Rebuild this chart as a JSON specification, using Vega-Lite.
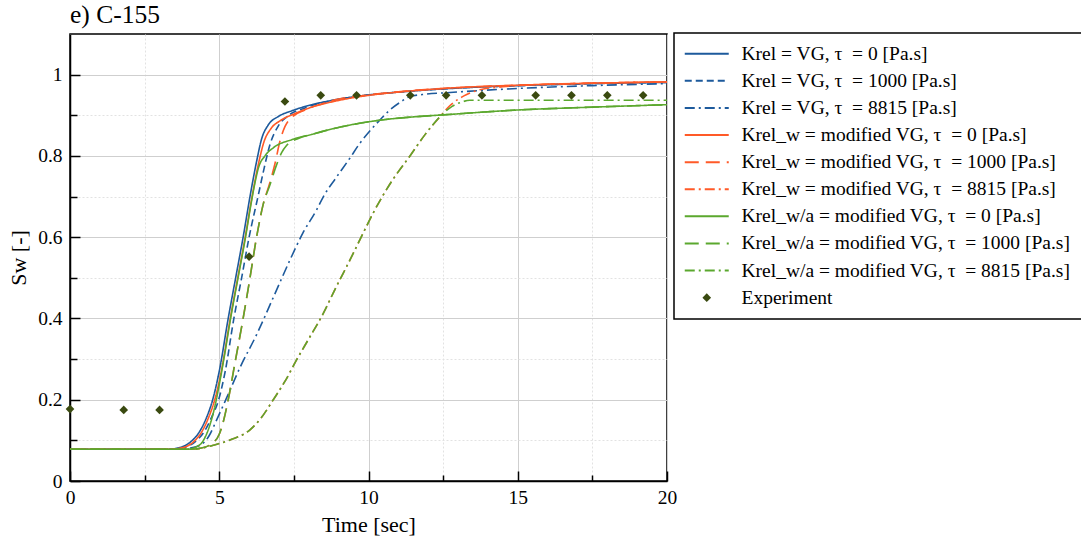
{
 "$schema": "https://vega.github.io/schema/vega-lite/v6.json",
 "width": 597, "height": 447,
 "autosize": {"type": "none"},
 "padding": {"left": 70, "top": 34, "right": 414, "bottom": 63},
 "background": "white",
 "title": {"text": "e) C-155", "anchor": "start", "frame": "group", "font": "Liberation Serif", "fontSize": 25.5, "fontWeight": "normal", "color": "black", "baseline": "bottom", "offset": 0, "dy": 21.5},
 "config": {"view": {"stroke": "black", "strokeWidth": 1.5}, "font": "Liberation Serif"},
 "datasets": {
  "curves": [
   {"s":"Krel = VG, τ\u00a0 = 0 [Pa.s]","t":0,"sw":0.078},{"s":"Krel = VG, τ\u00a0 = 0 [Pa.s]","t":3.2,"sw":0.078},{"s":"Krel = VG, τ\u00a0 = 0 [Pa.s]","t":3.6,"sw":0.081},{"s":"Krel = VG, τ\u00a0 = 0 [Pa.s]","t":4.0,"sw":0.094},{"s":"Krel = VG, τ\u00a0 = 0 [Pa.s]","t":4.3,"sw":0.117},{"s":"Krel = VG, τ\u00a0 = 0 [Pa.s]","t":4.55,"sw":0.152},{"s":"Krel = VG, τ\u00a0 = 0 [Pa.s]","t":4.78,"sw":0.2},{"s":"Krel = VG, τ\u00a0 = 0 [Pa.s]","t":5.0,"sw":0.27},{"s":"Krel = VG, τ\u00a0 = 0 [Pa.s]","t":5.3,"sw":0.4},{"s":"Krel = VG, τ\u00a0 = 0 [Pa.s]","t":5.55,"sw":0.5},{"s":"Krel = VG, τ\u00a0 = 0 [Pa.s]","t":5.8,"sw":0.6},{"s":"Krel = VG, τ\u00a0 = 0 [Pa.s]","t":6.03,"sw":0.7},{"s":"Krel = VG, τ\u00a0 = 0 [Pa.s]","t":6.25,"sw":0.786},{"s":"Krel = VG, τ\u00a0 = 0 [Pa.s]","t":6.42,"sw":0.842},{"s":"Krel = VG, τ\u00a0 = 0 [Pa.s]","t":6.64,"sw":0.876},{"s":"Krel = VG, τ\u00a0 = 0 [Pa.s]","t":6.98,"sw":0.897},{"s":"Krel = VG, τ\u00a0 = 0 [Pa.s]","t":7.43,"sw":0.911},{"s":"Krel = VG, τ\u00a0 = 0 [Pa.s]","t":8.1,"sw":0.926},{"s":"Krel = VG, τ\u00a0 = 0 [Pa.s]","t":8.88,"sw":0.938},{"s":"Krel = VG, τ\u00a0 = 0 [Pa.s]","t":10,"sw":0.95},{"s":"Krel = VG, τ\u00a0 = 0 [Pa.s]","t":11,"sw":0.957},{"s":"Krel = VG, τ\u00a0 = 0 [Pa.s]","t":12.5,"sw":0.965},{"s":"Krel = VG, τ\u00a0 = 0 [Pa.s]","t":15,"sw":0.973},{"s":"Krel = VG, τ\u00a0 = 0 [Pa.s]","t":17.5,"sw":0.978},{"s":"Krel = VG, τ\u00a0 = 0 [Pa.s]","t":20,"sw":0.981},

   {"s":"Krel = VG, τ\u00a0 = 1000 [Pa.s]","t":0,"sw":0.078},{"s":"Krel = VG, τ\u00a0 = 1000 [Pa.s]","t":3.4,"sw":0.078},{"s":"Krel = VG, τ\u00a0 = 1000 [Pa.s]","t":3.8,"sw":0.082},{"s":"Krel = VG, τ\u00a0 = 1000 [Pa.s]","t":4.2,"sw":0.097},{"s":"Krel = VG, τ\u00a0 = 1000 [Pa.s]","t":4.5,"sw":0.122},{"s":"Krel = VG, τ\u00a0 = 1000 [Pa.s]","t":4.75,"sw":0.158},{"s":"Krel = VG, τ\u00a0 = 1000 [Pa.s]","t":4.98,"sw":0.2},{"s":"Krel = VG, τ\u00a0 = 1000 [Pa.s]","t":5.2,"sw":0.27},{"s":"Krel = VG, τ\u00a0 = 1000 [Pa.s]","t":5.49,"sw":0.4},{"s":"Krel = VG, τ\u00a0 = 1000 [Pa.s]","t":5.75,"sw":0.5},{"s":"Krel = VG, τ\u00a0 = 1000 [Pa.s]","t":6.0,"sw":0.6},{"s":"Krel = VG, τ\u00a0 = 1000 [Pa.s]","t":6.31,"sw":0.704},{"s":"Krel = VG, τ\u00a0 = 1000 [Pa.s]","t":6.48,"sw":0.762},{"s":"Krel = VG, τ\u00a0 = 1000 [Pa.s]","t":6.7,"sw":0.828},{"s":"Krel = VG, τ\u00a0 = 1000 [Pa.s]","t":6.98,"sw":0.874},{"s":"Krel = VG, τ\u00a0 = 1000 [Pa.s]","t":7.31,"sw":0.899},{"s":"Krel = VG, τ\u00a0 = 1000 [Pa.s]","t":7.87,"sw":0.918},{"s":"Krel = VG, τ\u00a0 = 1000 [Pa.s]","t":8.7,"sw":0.935},{"s":"Krel = VG, τ\u00a0 = 1000 [Pa.s]","t":10,"sw":0.95},{"s":"Krel = VG, τ\u00a0 = 1000 [Pa.s]","t":11,"sw":0.957},{"s":"Krel = VG, τ\u00a0 = 1000 [Pa.s]","t":12.5,"sw":0.965},{"s":"Krel = VG, τ\u00a0 = 1000 [Pa.s]","t":15,"sw":0.973},{"s":"Krel = VG, τ\u00a0 = 1000 [Pa.s]","t":17.5,"sw":0.978},{"s":"Krel = VG, τ\u00a0 = 1000 [Pa.s]","t":20,"sw":0.981},

   {"s":"Krel = VG, τ\u00a0 = 8815 [Pa.s]","t":0,"sw":0.078},{"s":"Krel = VG, τ\u00a0 = 8815 [Pa.s]","t":3.6,"sw":0.078},{"s":"Krel = VG, τ\u00a0 = 8815 [Pa.s]","t":4.0,"sw":0.081},{"s":"Krel = VG, τ\u00a0 = 8815 [Pa.s]","t":4.36,"sw":0.088},{"s":"Krel = VG, τ\u00a0 = 8815 [Pa.s]","t":4.65,"sw":0.11},{"s":"Krel = VG, τ\u00a0 = 8815 [Pa.s]","t":4.91,"sw":0.15},{"s":"Krel = VG, τ\u00a0 = 8815 [Pa.s]","t":5.25,"sw":0.205},{"s":"Krel = VG, τ\u00a0 = 8815 [Pa.s]","t":5.7,"sw":0.28},{"s":"Krel = VG, τ\u00a0 = 8815 [Pa.s]","t":6.25,"sw":0.36},{"s":"Krel = VG, τ\u00a0 = 8815 [Pa.s]","t":6.8,"sw":0.45},{"s":"Krel = VG, τ\u00a0 = 8815 [Pa.s]","t":7.37,"sw":0.544},{"s":"Krel = VG, τ\u00a0 = 8815 [Pa.s]","t":7.8,"sw":0.61},{"s":"Krel = VG, τ\u00a0 = 8815 [Pa.s]","t":8.26,"sw":0.667},{"s":"Krel = VG, τ\u00a0 = 8815 [Pa.s]","t":8.49,"sw":0.7},{"s":"Krel = VG, τ\u00a0 = 8815 [Pa.s]","t":8.9,"sw":0.745},{"s":"Krel = VG, τ\u00a0 = 8815 [Pa.s]","t":9.38,"sw":0.795},{"s":"Krel = VG, τ\u00a0 = 8815 [Pa.s]","t":9.7,"sw":0.83},{"s":"Krel = VG, τ\u00a0 = 8815 [Pa.s]","t":10.05,"sw":0.862},{"s":"Krel = VG, τ\u00a0 = 8815 [Pa.s]","t":10.39,"sw":0.889},{"s":"Krel = VG, τ\u00a0 = 8815 [Pa.s]","t":10.7,"sw":0.912},{"s":"Krel = VG, τ\u00a0 = 8815 [Pa.s]","t":11.06,"sw":0.932},{"s":"Krel = VG, τ\u00a0 = 8815 [Pa.s]","t":11.39,"sw":0.946},{"s":"Krel = VG, τ\u00a0 = 8815 [Pa.s]","t":11.8,"sw":0.951},{"s":"Krel = VG, τ\u00a0 = 8815 [Pa.s]","t":12.73,"sw":0.956},{"s":"Krel = VG, τ\u00a0 = 8815 [Pa.s]","t":15,"sw":0.966},{"s":"Krel = VG, τ\u00a0 = 8815 [Pa.s]","t":17.5,"sw":0.973},{"s":"Krel = VG, τ\u00a0 = 8815 [Pa.s]","t":20,"sw":0.978},

   {"s":"Krel_w = modified VG, τ\u00a0 = 0 [Pa.s]","t":0,"sw":0.078},{"s":"Krel_w = modified VG, τ\u00a0 = 0 [Pa.s]","t":3.3,"sw":0.078},{"s":"Krel_w = modified VG, τ\u00a0 = 0 [Pa.s]","t":3.7,"sw":0.081},{"s":"Krel_w = modified VG, τ\u00a0 = 0 [Pa.s]","t":4.1,"sw":0.094},{"s":"Krel_w = modified VG, τ\u00a0 = 0 [Pa.s]","t":4.38,"sw":0.117},{"s":"Krel_w = modified VG, τ\u00a0 = 0 [Pa.s]","t":4.62,"sw":0.152},{"s":"Krel_w = modified VG, τ\u00a0 = 0 [Pa.s]","t":4.85,"sw":0.2},{"s":"Krel_w = modified VG, τ\u00a0 = 0 [Pa.s]","t":5.07,"sw":0.27},{"s":"Krel_w = modified VG, τ\u00a0 = 0 [Pa.s]","t":5.37,"sw":0.4},{"s":"Krel_w = modified VG, τ\u00a0 = 0 [Pa.s]","t":5.62,"sw":0.5},{"s":"Krel_w = modified VG, τ\u00a0 = 0 [Pa.s]","t":5.87,"sw":0.6},{"s":"Krel_w = modified VG, τ\u00a0 = 0 [Pa.s]","t":6.1,"sw":0.7},{"s":"Krel_w = modified VG, τ\u00a0 = 0 [Pa.s]","t":6.33,"sw":0.786},{"s":"Krel_w = modified VG, τ\u00a0 = 0 [Pa.s]","t":6.5,"sw":0.835},{"s":"Krel_w = modified VG, τ\u00a0 = 0 [Pa.s]","t":6.72,"sw":0.866},{"s":"Krel_w = modified VG, τ\u00a0 = 0 [Pa.s]","t":7.05,"sw":0.887},{"s":"Krel_w = modified VG, τ\u00a0 = 0 [Pa.s]","t":7.5,"sw":0.903},{"s":"Krel_w = modified VG, τ\u00a0 = 0 [Pa.s]","t":8.1,"sw":0.92},{"s":"Krel_w = modified VG, τ\u00a0 = 0 [Pa.s]","t":8.9,"sw":0.935},{"s":"Krel_w = modified VG, τ\u00a0 = 0 [Pa.s]","t":10,"sw":0.949},{"s":"Krel_w = modified VG, τ\u00a0 = 0 [Pa.s]","t":11,"sw":0.957},{"s":"Krel_w = modified VG, τ\u00a0 = 0 [Pa.s]","t":12.5,"sw":0.966},{"s":"Krel_w = modified VG, τ\u00a0 = 0 [Pa.s]","t":15,"sw":0.974},{"s":"Krel_w = modified VG, τ\u00a0 = 0 [Pa.s]","t":17.5,"sw":0.979},{"s":"Krel_w = modified VG, τ\u00a0 = 0 [Pa.s]","t":20,"sw":0.982},

   {"s":"Krel_w = modified VG, τ\u00a0 = 1000 [Pa.s]","t":0,"sw":0.078},{"s":"Krel_w = modified VG, τ\u00a0 = 1000 [Pa.s]","t":4.0,"sw":0.078},{"s":"Krel_w = modified VG, τ\u00a0 = 1000 [Pa.s]","t":4.4,"sw":0.081},{"s":"Krel_w = modified VG, τ\u00a0 = 1000 [Pa.s]","t":4.75,"sw":0.092},{"s":"Krel_w = modified VG, τ\u00a0 = 1000 [Pa.s]","t":5.0,"sw":0.115},{"s":"Krel_w = modified VG, τ\u00a0 = 1000 [Pa.s]","t":5.15,"sw":0.15},{"s":"Krel_w = modified VG, τ\u00a0 = 1000 [Pa.s]","t":5.3,"sw":0.2},{"s":"Krel_w = modified VG, τ\u00a0 = 1000 [Pa.s]","t":5.55,"sw":0.3},{"s":"Krel_w = modified VG, τ\u00a0 = 1000 [Pa.s]","t":5.8,"sw":0.4},{"s":"Krel_w = modified VG, τ\u00a0 = 1000 [Pa.s]","t":6.03,"sw":0.5},{"s":"Krel_w = modified VG, τ\u00a0 = 1000 [Pa.s]","t":6.25,"sw":0.6},{"s":"Krel_w = modified VG, τ\u00a0 = 1000 [Pa.s]","t":6.47,"sw":0.68},{"s":"Krel_w = modified VG, τ\u00a0 = 1000 [Pa.s]","t":6.7,"sw":0.735},{"s":"Krel_w = modified VG, τ\u00a0 = 1000 [Pa.s]","t":6.87,"sw":0.782},{"s":"Krel_w = modified VG, τ\u00a0 = 1000 [Pa.s]","t":7.04,"sw":0.838},{"s":"Krel_w = modified VG, τ\u00a0 = 1000 [Pa.s]","t":7.2,"sw":0.872},{"s":"Krel_w = modified VG, τ\u00a0 = 1000 [Pa.s]","t":7.43,"sw":0.895},{"s":"Krel_w = modified VG, τ\u00a0 = 1000 [Pa.s]","t":7.87,"sw":0.913},{"s":"Krel_w = modified VG, τ\u00a0 = 1000 [Pa.s]","t":8.43,"sw":0.928},{"s":"Krel_w = modified VG, τ\u00a0 = 1000 [Pa.s]","t":8.88,"sw":0.938},{"s":"Krel_w = modified VG, τ\u00a0 = 1000 [Pa.s]","t":10,"sw":0.95},{"s":"Krel_w = modified VG, τ\u00a0 = 1000 [Pa.s]","t":11,"sw":0.958},{"s":"Krel_w = modified VG, τ\u00a0 = 1000 [Pa.s]","t":12.5,"sw":0.966},{"s":"Krel_w = modified VG, τ\u00a0 = 1000 [Pa.s]","t":15,"sw":0.974},{"s":"Krel_w = modified VG, τ\u00a0 = 1000 [Pa.s]","t":17.5,"sw":0.979},{"s":"Krel_w = modified VG, τ\u00a0 = 1000 [Pa.s]","t":20,"sw":0.982},

   {"s":"Krel_w = modified VG, τ\u00a0 = 8815 [Pa.s]","t":0,"sw":0.078},{"s":"Krel_w = modified VG, τ\u00a0 = 8815 [Pa.s]","t":4.0,"sw":0.078},{"s":"Krel_w = modified VG, τ\u00a0 = 8815 [Pa.s]","t":4.36,"sw":0.08},{"s":"Krel_w = modified VG, τ\u00a0 = 8815 [Pa.s]","t":4.8,"sw":0.088},{"s":"Krel_w = modified VG, τ\u00a0 = 8815 [Pa.s]","t":5.36,"sw":0.101},{"s":"Krel_w = modified VG, τ\u00a0 = 8815 [Pa.s]","t":6.03,"sw":0.126},{"s":"Krel_w = modified VG, τ\u00a0 = 8815 [Pa.s]","t":6.4,"sw":0.155},{"s":"Krel_w = modified VG, τ\u00a0 = 8815 [Pa.s]","t":6.81,"sw":0.2},{"s":"Krel_w = modified VG, τ\u00a0 = 8815 [Pa.s]","t":7.2,"sw":0.245},{"s":"Krel_w = modified VG, τ\u00a0 = 8815 [Pa.s]","t":7.59,"sw":0.298},{"s":"Krel_w = modified VG, τ\u00a0 = 8815 [Pa.s]","t":8.0,"sw":0.35},{"s":"Krel_w = modified VG, τ\u00a0 = 8815 [Pa.s]","t":8.49,"sw":0.413},{"s":"Krel_w = modified VG, τ\u00a0 = 8815 [Pa.s]","t":8.9,"sw":0.475},{"s":"Krel_w = modified VG, τ\u00a0 = 8815 [Pa.s]","t":9.38,"sw":0.544},{"s":"Krel_w = modified VG, τ\u00a0 = 8815 [Pa.s]","t":9.8,"sw":0.607},{"s":"Krel_w = modified VG, τ\u00a0 = 8815 [Pa.s]","t":10.16,"sw":0.66},{"s":"Krel_w = modified VG, τ\u00a0 = 8815 [Pa.s]","t":10.8,"sw":0.74},{"s":"Krel_w = modified VG, τ\u00a0 = 8815 [Pa.s]","t":11.39,"sw":0.8},{"s":"Krel_w = modified VG, τ\u00a0 = 8815 [Pa.s]","t":11.9,"sw":0.853},{"s":"Krel_w = modified VG, τ\u00a0 = 8815 [Pa.s]","t":12.4,"sw":0.897},{"s":"Krel_w = modified VG, τ\u00a0 = 8815 [Pa.s]","t":12.73,"sw":0.924},{"s":"Krel_w = modified VG, τ\u00a0 = 8815 [Pa.s]","t":13.18,"sw":0.947},{"s":"Krel_w = modified VG, τ\u00a0 = 8815 [Pa.s]","t":13.74,"sw":0.963},{"s":"Krel_w = modified VG, τ\u00a0 = 8815 [Pa.s]","t":14.5,"sw":0.97},{"s":"Krel_w = modified VG, τ\u00a0 = 8815 [Pa.s]","t":15,"sw":0.973},{"s":"Krel_w = modified VG, τ\u00a0 = 8815 [Pa.s]","t":17.5,"sw":0.979},{"s":"Krel_w = modified VG, τ\u00a0 = 8815 [Pa.s]","t":20,"sw":0.982},

   {"s":"Krel_w/a = modified VG, τ\u00a0 = 0 [Pa.s]","t":0,"sw":0.078},{"s":"Krel_w/a = modified VG, τ\u00a0 = 0 [Pa.s]","t":3.9,"sw":0.078},{"s":"Krel_w/a = modified VG, τ\u00a0 = 0 [Pa.s]","t":4.2,"sw":0.083},{"s":"Krel_w/a = modified VG, τ\u00a0 = 0 [Pa.s]","t":4.47,"sw":0.1},{"s":"Krel_w/a = modified VG, τ\u00a0 = 0 [Pa.s]","t":4.65,"sw":0.13},{"s":"Krel_w/a = modified VG, τ\u00a0 = 0 [Pa.s]","t":4.8,"sw":0.167},{"s":"Krel_w/a = modified VG, τ\u00a0 = 0 [Pa.s]","t":5.03,"sw":0.249},{"s":"Krel_w/a = modified VG, τ\u00a0 = 0 [Pa.s]","t":5.2,"sw":0.32},{"s":"Krel_w/a = modified VG, τ\u00a0 = 0 [Pa.s]","t":5.38,"sw":0.4},{"s":"Krel_w/a = modified VG, τ\u00a0 = 0 [Pa.s]","t":5.63,"sw":0.5},{"s":"Krel_w/a = modified VG, τ\u00a0 = 0 [Pa.s]","t":5.88,"sw":0.6},{"s":"Krel_w/a = modified VG, τ\u00a0 = 0 [Pa.s]","t":6.06,"sw":0.68},{"s":"Krel_w/a = modified VG, τ\u00a0 = 0 [Pa.s]","t":6.2,"sw":0.735},{"s":"Krel_w/a = modified VG, τ\u00a0 = 0 [Pa.s]","t":6.31,"sw":0.77},{"s":"Krel_w/a = modified VG, τ\u00a0 = 0 [Pa.s]","t":6.53,"sw":0.8},{"s":"Krel_w/a = modified VG, τ\u00a0 = 0 [Pa.s]","t":6.81,"sw":0.82},{"s":"Krel_w/a = modified VG, τ\u00a0 = 0 [Pa.s]","t":7.43,"sw":0.84},{"s":"Krel_w/a = modified VG, τ\u00a0 = 0 [Pa.s]","t":8.1,"sw":0.853},{"s":"Krel_w/a = modified VG, τ\u00a0 = 0 [Pa.s]","t":8.88,"sw":0.868},{"s":"Krel_w/a = modified VG, τ\u00a0 = 0 [Pa.s]","t":9.38,"sw":0.876},{"s":"Krel_w/a = modified VG, τ\u00a0 = 0 [Pa.s]","t":10.5,"sw":0.889},{"s":"Krel_w/a = modified VG, τ\u00a0 = 0 [Pa.s]","t":11.5,"sw":0.896},{"s":"Krel_w/a = modified VG, τ\u00a0 = 0 [Pa.s]","t":12.5,"sw":0.901},{"s":"Krel_w/a = modified VG, τ\u00a0 = 0 [Pa.s]","t":15,"sw":0.913},{"s":"Krel_w/a = modified VG, τ\u00a0 = 0 [Pa.s]","t":17.5,"sw":0.92},{"s":"Krel_w/a = modified VG, τ\u00a0 = 0 [Pa.s]","t":20,"sw":0.926},

   {"s":"Krel_w/a = modified VG, τ\u00a0 = 1000 [Pa.s]","t":0,"sw":0.078},{"s":"Krel_w/a = modified VG, τ\u00a0 = 1000 [Pa.s]","t":4.0,"sw":0.078},{"s":"Krel_w/a = modified VG, τ\u00a0 = 1000 [Pa.s]","t":4.4,"sw":0.081},{"s":"Krel_w/a = modified VG, τ\u00a0 = 1000 [Pa.s]","t":4.75,"sw":0.092},{"s":"Krel_w/a = modified VG, τ\u00a0 = 1000 [Pa.s]","t":5.0,"sw":0.115},{"s":"Krel_w/a = modified VG, τ\u00a0 = 1000 [Pa.s]","t":5.15,"sw":0.15},{"s":"Krel_w/a = modified VG, τ\u00a0 = 1000 [Pa.s]","t":5.3,"sw":0.2},{"s":"Krel_w/a = modified VG, τ\u00a0 = 1000 [Pa.s]","t":5.55,"sw":0.3},{"s":"Krel_w/a = modified VG, τ\u00a0 = 1000 [Pa.s]","t":5.8,"sw":0.4},{"s":"Krel_w/a = modified VG, τ\u00a0 = 1000 [Pa.s]","t":6.03,"sw":0.5},{"s":"Krel_w/a = modified VG, τ\u00a0 = 1000 [Pa.s]","t":6.25,"sw":0.6},{"s":"Krel_w/a = modified VG, τ\u00a0 = 1000 [Pa.s]","t":6.47,"sw":0.68},{"s":"Krel_w/a = modified VG, τ\u00a0 = 1000 [Pa.s]","t":6.7,"sw":0.729},{"s":"Krel_w/a = modified VG, τ\u00a0 = 1000 [Pa.s]","t":6.92,"sw":0.778},{"s":"Krel_w/a = modified VG, τ\u00a0 = 1000 [Pa.s]","t":7.09,"sw":0.808},{"s":"Krel_w/a = modified VG, τ\u00a0 = 1000 [Pa.s]","t":7.26,"sw":0.826},{"s":"Krel_w/a = modified VG, τ\u00a0 = 1000 [Pa.s]","t":7.65,"sw":0.843},{"s":"Krel_w/a = modified VG, τ\u00a0 = 1000 [Pa.s]","t":8.1,"sw":0.853},{"s":"Krel_w/a = modified VG, τ\u00a0 = 1000 [Pa.s]","t":8.88,"sw":0.868},{"s":"Krel_w/a = modified VG, τ\u00a0 = 1000 [Pa.s]","t":9.38,"sw":0.876},{"s":"Krel_w/a = modified VG, τ\u00a0 = 1000 [Pa.s]","t":10.5,"sw":0.889},{"s":"Krel_w/a = modified VG, τ\u00a0 = 1000 [Pa.s]","t":11.5,"sw":0.896},{"s":"Krel_w/a = modified VG, τ\u00a0 = 1000 [Pa.s]","t":12.5,"sw":0.901},{"s":"Krel_w/a = modified VG, τ\u00a0 = 1000 [Pa.s]","t":15,"sw":0.913},{"s":"Krel_w/a = modified VG, τ\u00a0 = 1000 [Pa.s]","t":17.5,"sw":0.92},{"s":"Krel_w/a = modified VG, τ\u00a0 = 1000 [Pa.s]","t":20,"sw":0.926},

   {"s":"Krel_w/a = modified VG, τ\u00a0 = 8815 [Pa.s]","t":0,"sw":0.078},{"s":"Krel_w/a = modified VG, τ\u00a0 = 8815 [Pa.s]","t":4.0,"sw":0.078},{"s":"Krel_w/a = modified VG, τ\u00a0 = 8815 [Pa.s]","t":4.36,"sw":0.08},{"s":"Krel_w/a = modified VG, τ\u00a0 = 8815 [Pa.s]","t":4.8,"sw":0.088},{"s":"Krel_w/a = modified VG, τ\u00a0 = 8815 [Pa.s]","t":5.36,"sw":0.101},{"s":"Krel_w/a = modified VG, τ\u00a0 = 8815 [Pa.s]","t":6.03,"sw":0.126},{"s":"Krel_w/a = modified VG, τ\u00a0 = 8815 [Pa.s]","t":6.4,"sw":0.155},{"s":"Krel_w/a = modified VG, τ\u00a0 = 8815 [Pa.s]","t":6.81,"sw":0.2},{"s":"Krel_w/a = modified VG, τ\u00a0 = 8815 [Pa.s]","t":7.2,"sw":0.245},{"s":"Krel_w/a = modified VG, τ\u00a0 = 8815 [Pa.s]","t":7.59,"sw":0.298},{"s":"Krel_w/a = modified VG, τ\u00a0 = 8815 [Pa.s]","t":8.0,"sw":0.35},{"s":"Krel_w/a = modified VG, τ\u00a0 = 8815 [Pa.s]","t":8.49,"sw":0.413},{"s":"Krel_w/a = modified VG, τ\u00a0 = 8815 [Pa.s]","t":8.9,"sw":0.475},{"s":"Krel_w/a = modified VG, τ\u00a0 = 8815 [Pa.s]","t":9.38,"sw":0.544},{"s":"Krel_w/a = modified VG, τ\u00a0 = 8815 [Pa.s]","t":9.8,"sw":0.607},{"s":"Krel_w/a = modified VG, τ\u00a0 = 8815 [Pa.s]","t":10.16,"sw":0.66},{"s":"Krel_w/a = modified VG, τ\u00a0 = 8815 [Pa.s]","t":10.8,"sw":0.74},{"s":"Krel_w/a = modified VG, τ\u00a0 = 8815 [Pa.s]","t":11.39,"sw":0.8},{"s":"Krel_w/a = modified VG, τ\u00a0 = 8815 [Pa.s]","t":11.9,"sw":0.853},{"s":"Krel_w/a = modified VG, τ\u00a0 = 8815 [Pa.s]","t":12.4,"sw":0.897},{"s":"Krel_w/a = modified VG, τ\u00a0 = 8815 [Pa.s]","t":12.8,"sw":0.922},{"s":"Krel_w/a = modified VG, τ\u00a0 = 8815 [Pa.s]","t":13.1,"sw":0.932},{"s":"Krel_w/a = modified VG, τ\u00a0 = 8815 [Pa.s]","t":13.4,"sw":0.937},{"s":"Krel_w/a = modified VG, τ\u00a0 = 8815 [Pa.s]","t":15,"sw":0.937},{"s":"Krel_w/a = modified VG, τ\u00a0 = 8815 [Pa.s]","t":20,"sw":0.937}
  ],
  "exp": [
   {"s":"Experiment","t":0,"sw":0.177},{"s":"Experiment","t":1.8,"sw":0.175},{"s":"Experiment","t":3.0,"sw":0.175},{"s":"Experiment","t":6.0,"sw":0.552},{"s":"Experiment","t":7.2,"sw":0.934},{"s":"Experiment","t":8.4,"sw":0.949},{"s":"Experiment","t":9.6,"sw":0.949},{"s":"Experiment","t":11.4,"sw":0.949},{"s":"Experiment","t":12.6,"sw":0.949},{"s":"Experiment","t":13.8,"sw":0.949},{"s":"Experiment","t":15.6,"sw":0.949},{"s":"Experiment","t":16.8,"sw":0.949},{"s":"Experiment","t":18.0,"sw":0.949},{"s":"Experiment","t":19.2,"sw":0.949}
  ]
 },
 "layer": [
  {
   "data": {"name": "curves"},
   "mark": {"type": "line", "strokeWidth": 1.6, "interpolate": "monotone"},
   "encoding": {
    "x": {"field": "t", "type": "quantitative", "scale": {"domain": [0, 20], "nice": false, "zero": false},
     "axis": {"values": [0, 2.5, 5, 7.5, 10, 12.5, 15, 17.5, 20], "labelExpr": "datum.value % 5 == 0 ? datum.label : ''",
      "title": "Time [sec]", "titleFont": "Liberation Serif", "titleFontSize": 22, "titleFontWeight": "normal", "titleColor": "black", "titlePadding": 4,
      "labelFont": "Liberation Serif", "labelFontSize": 19.5, "labelColor": "black", "labelPadding": 17, "labelFlush": false, "labelOverlap": false,
      "domainColor": "black", "domainWidth": 1.5, "tickColor": "black", "tickWidth": 1.5,
      "tickSize": {"condition": {"test": "datum.value % 5 == 0", "value": -10}, "value": -6},
      "grid": true, "gridWidth": 1,
      "gridColor": {"condition": {"test": "datum.value % 5 == 0", "value": "#cfcfcf"}, "value": "#e2e2e2"},
      "gridDash": {"condition": {"test": "datum.value % 5 == 0", "value": []}, "value": [2, 2]}}},
    "y": {"field": "sw", "type": "quantitative", "scale": {"domain": [0, 1.1], "nice": false},
     "axis": {"values": [0, 0.1, 0.2, 0.3, 0.4, 0.5, 0.6, 0.7, 0.8, 0.9, 1.0], "format": ".1~f",
      "labelExpr": "round(datum.value * 10) % 2 == 0 ? datum.label : ''",
      "title": "Sw [-]", "titleFont": "Liberation Serif", "titleFontSize": 22, "titleFontWeight": "normal", "titleColor": "black", "titlePadding": 7,
      "labelFont": "Liberation Serif", "labelFontSize": 19.5, "labelColor": "black", "labelPadding": 18, "labelFlush": false, "labelOverlap": false,
      "domainColor": "black", "domainWidth": 1.5, "tickColor": "black", "tickWidth": 1.5,
      "tickSize": {"condition": {"test": "round(datum.value * 10) % 2 == 0", "value": -10}, "value": -7},
      "grid": true, "gridWidth": 1,
      "gridColor": {"condition": {"test": "round(datum.value * 10) % 2 == 0", "value": "#cfcfcf"}, "value": "#e2e2e2"},
      "gridDash": {"condition": {"test": "round(datum.value * 10) % 2 == 0", "value": []}, "value": [2, 2]}}},
    "color": {"field": "s", "type": "nominal",
     "scale": {"domain": ["Krel = VG, τ\u00a0 = 0 [Pa.s]", "Krel = VG, τ\u00a0 = 1000 [Pa.s]", "Krel = VG, τ\u00a0 = 8815 [Pa.s]", "Krel_w = modified VG, τ\u00a0 = 0 [Pa.s]", "Krel_w = modified VG, τ\u00a0 = 1000 [Pa.s]", "Krel_w = modified VG, τ\u00a0 = 8815 [Pa.s]", "Krel_w/a = modified VG, τ\u00a0 = 0 [Pa.s]", "Krel_w/a = modified VG, τ\u00a0 = 1000 [Pa.s]", "Krel_w/a = modified VG, τ\u00a0 = 8815 [Pa.s]", "Experiment"],
      "range": ["#1d5a9c", "#1d5a9c", "#1d5a9c", "#ff5a28", "#ff5a28", "#ff5a28", "#5ba82e", "#5ba82e", "#5ba82e", "#3a4a10"]},
     "legend": {"title": null, "orient": "none", "legendX": 604, "legendY": -1, "padding": 11,
      "strokeColor": "black", "fillColor": "white",
      "symbolSize": 1936, "symbolStrokeWidth": 2, "symbolOffset": 12, "labelOffset": 25,
      "labelFont": "Liberation Serif", "labelFontSize": 19.5, "labelColor": "black", "labelLimit": 500, "rowPadding": 6.1,
      "encode": {
       "legend": {"update": {"strokeWidth": {"value": 1.5}}},
       "symbols": {"update": {
       "shape": {"signal": "datum.value == 'Experiment' ? 'diamond' : 'stroke'"},
       "size": {"signal": "datum.value == 'Experiment' ? 75 : 1936"},
       "fill": {"scale": "color", "field": "value"},
       "stroke": {"scale": "color", "field": "value"},
       "strokeDash": {"scale": "strokeDash", "field": "value"},
       "strokeWidth": {"signal": "datum.value == 'Experiment' ? 0 : 2"},
       "opacity": {"value": 1}}}}}},
    "strokeDash": {"field": "s", "type": "nominal",
     "scale": {"domain": ["Krel = VG, τ\u00a0 = 0 [Pa.s]", "Krel = VG, τ\u00a0 = 1000 [Pa.s]", "Krel = VG, τ\u00a0 = 8815 [Pa.s]", "Krel_w = modified VG, τ\u00a0 = 0 [Pa.s]", "Krel_w = modified VG, τ\u00a0 = 1000 [Pa.s]", "Krel_w = modified VG, τ\u00a0 = 8815 [Pa.s]", "Krel_w/a = modified VG, τ\u00a0 = 0 [Pa.s]", "Krel_w/a = modified VG, τ\u00a0 = 1000 [Pa.s]", "Krel_w/a = modified VG, τ\u00a0 = 8815 [Pa.s]", "Experiment"],
      "range": [[1, 0], [7, 4], [10, 4, 2, 4], [1, 0], [14, 7], [10, 4, 2, 4], [1, 0], [14, 7], [10, 4, 2, 4], [1, 0]]},
     "legend": null}
   }
  },
  {
   "data": {"name": "exp"},
   "mark": {"type": "point", "shape": "diamond", "filled": true, "size": 75, "opacity": 1},
   "encoding": {
    "x": {"field": "t", "type": "quantitative"},
    "y": {"field": "sw", "type": "quantitative"},
    "color": {"field": "s", "type": "nominal",
     "scale": {"domain": ["Krel = VG, τ\u00a0 = 0 [Pa.s]", "Krel = VG, τ\u00a0 = 1000 [Pa.s]", "Krel = VG, τ\u00a0 = 8815 [Pa.s]", "Krel_w = modified VG, τ\u00a0 = 0 [Pa.s]", "Krel_w = modified VG, τ\u00a0 = 1000 [Pa.s]", "Krel_w = modified VG, τ\u00a0 = 8815 [Pa.s]", "Krel_w/a = modified VG, τ\u00a0 = 0 [Pa.s]", "Krel_w/a = modified VG, τ\u00a0 = 1000 [Pa.s]", "Krel_w/a = modified VG, τ\u00a0 = 8815 [Pa.s]", "Experiment"],
      "range": ["#1d5a9c", "#1d5a9c", "#1d5a9c", "#ff5a28", "#ff5a28", "#ff5a28", "#5ba82e", "#5ba82e", "#5ba82e", "#3a4a10"]}}
   }
  }
 ]
}
